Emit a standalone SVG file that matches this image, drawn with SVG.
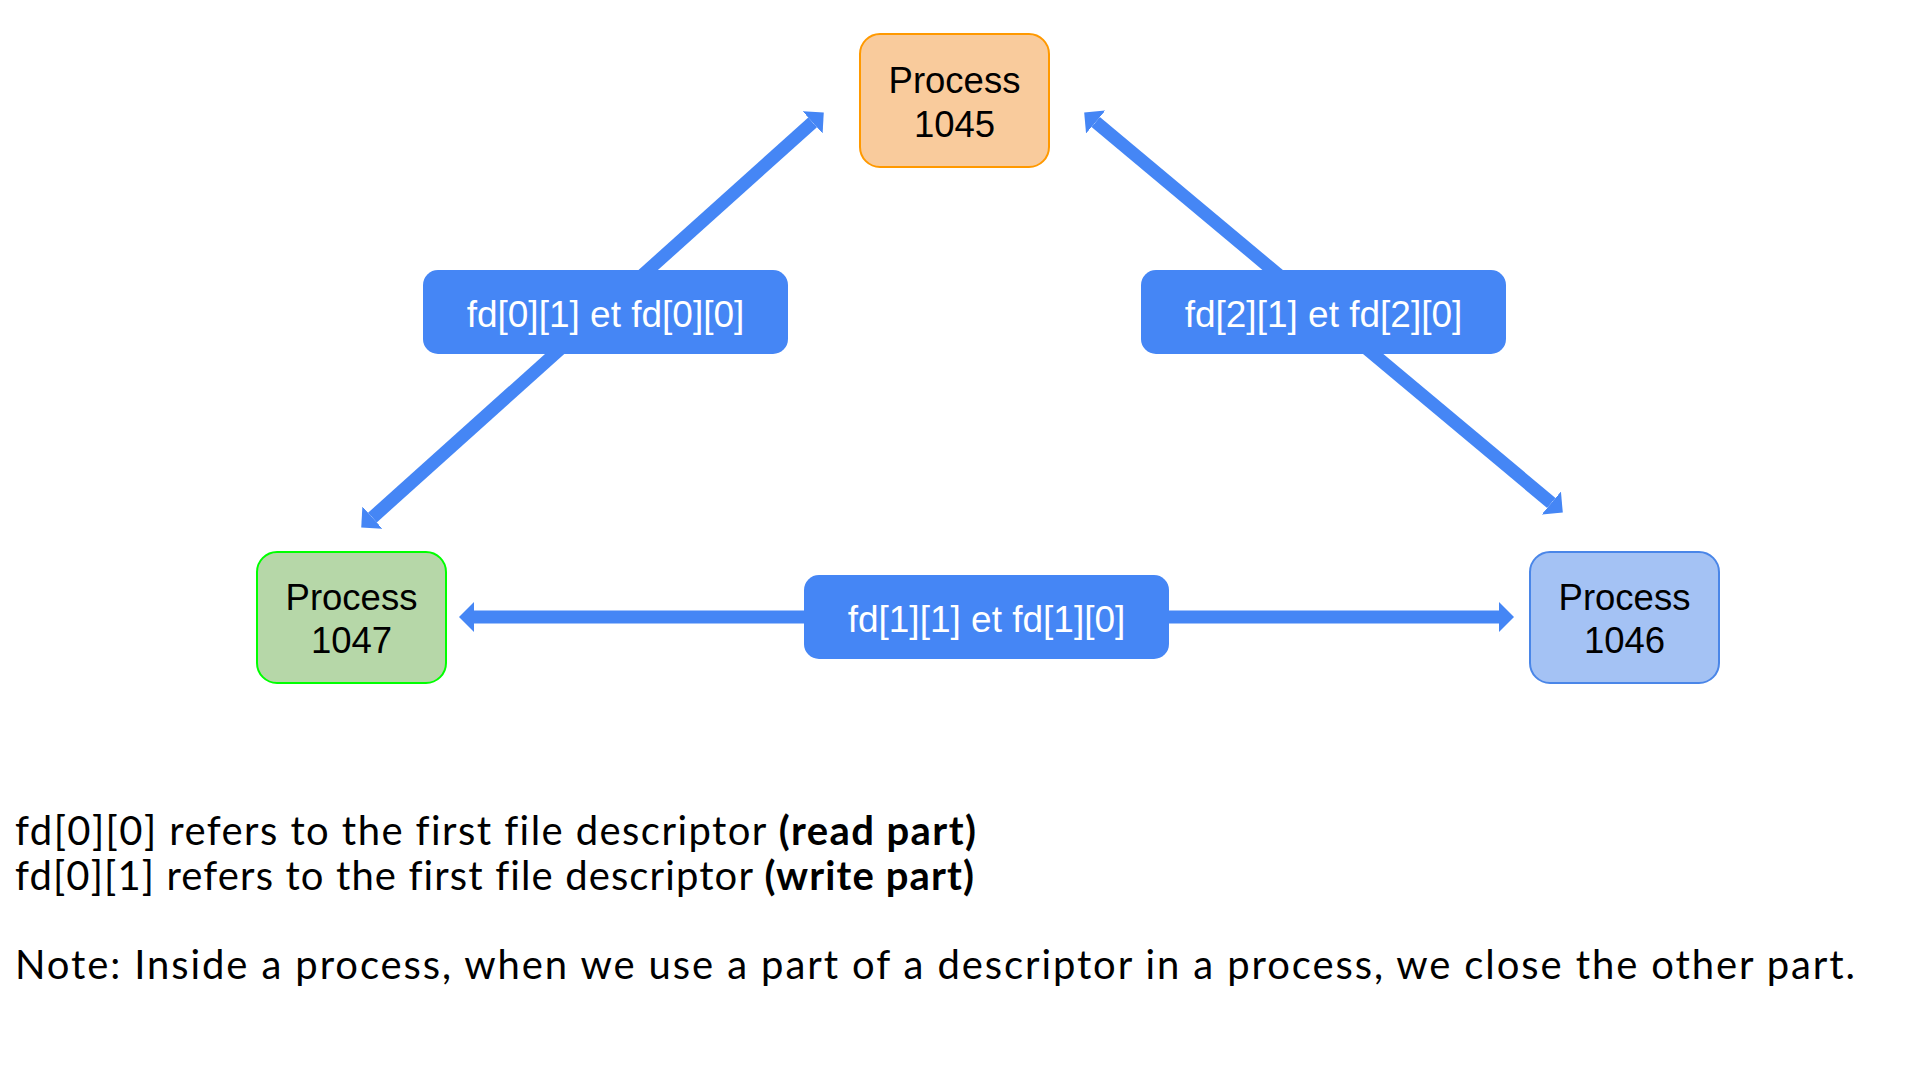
<svg xmlns="http://www.w3.org/2000/svg" width="1916" height="1080" viewBox="0 0 1916 1080">
<style>
.proc{stroke-width:2}
.ptext{font-family:"Liberation Sans",Arial,sans-serif;font-size:36.5px;fill:#000;text-anchor:middle}
.conn{stroke:#4586F5;stroke-width:13;fill:none;marker-start:url(#head);marker-end:url(#head)}
.lbox{fill:#4586F5}
.ltext{font-family:"Liberation Sans",Arial,sans-serif;font-size:37px;fill:#fff;text-anchor:middle}
.note{font-family:Lato,"Open Sans",sans-serif;font-size:40px;fill:#000;font-variant-ligatures:none}
.b{font-weight:bold}
</style>
<defs>
<marker id="head" viewBox="0 -15 15 30" refX="0" refY="0" markerWidth="15" markerHeight="30" markerUnits="userSpaceOnUse" orient="auto-start-reverse">
<path d="M0,-15 L15,0 L0,15 Z" fill="#4586F5"/>
</marker>
</defs>
<rect width="1916" height="1080" fill="#fff"/>
<g id="connectors">
<line class="conn" x1="372.4" y1="517.6" x2="812.6" y2="122.4"/>
<line class="conn" x1="1095.7" y1="122" x2="1551.3" y2="503"/>
<line class="conn" x1="474" y1="617" x2="1499" y2="617"/>
<g id="label-fd0">
<rect class="lbox" x="423" y="270" width="365" height="84" rx="15"/>
<text class="ltext" x="605.5" y="327">fd[0][1] et fd[0][0]</text>
</g>
<g id="label-fd2">
<rect class="lbox" x="1141" y="270" width="365" height="84" rx="15"/>
<text class="ltext" x="1323.5" y="327">fd[2][1] et fd[2][0]</text>
</g>
<g id="label-fd1">
<rect class="lbox" x="804" y="575" width="365" height="84" rx="15"/>
<text class="ltext" x="986.5" y="632">fd[1][1] et fd[1][0]</text>
</g>
</g>
<g id="process1045">
<rect class="proc" x="860" y="34" width="189" height="133" rx="20" fill="#F9CB9C" stroke="#FF9900"/>
<text class="ptext" x="954.5" y="93">Process</text>
<text class="ptext" x="954.5" y="137">1045</text>
</g>
<g id="process1047">
<rect class="proc" x="257" y="552" width="189" height="131" rx="20" fill="#B6D7A8" stroke="#00FF00"/>
<text class="ptext" x="351.5" y="610">Process</text>
<text class="ptext" x="351.5" y="653">1047</text>
</g>
<g id="process1046">
<rect class="proc" x="1530" y="552" width="189" height="131" rx="20" fill="#A4C2F4" stroke="#4A86E8"/>
<text class="ptext" x="1624.5" y="610">Process</text>
<text class="ptext" x="1624.5" y="653">1046</text>
</g>
<g id="notes">
<text class="note" x="15" y="845" textLength="961" lengthAdjust="spacing">fd[0][0] refers to the first file descriptor <tspan class="b">(read part)</tspan></text>
<text class="note" x="15" y="890" textLength="959" lengthAdjust="spacing">fd[0][1] refers to the first file descriptor <tspan class="b">(write part)</tspan></text>
<text class="note" x="15" y="979" textLength="1840" lengthAdjust="spacing">Note: Inside a process, when we use a part of a descriptor in a process, we close the other part.</text>
</g>
</svg>
